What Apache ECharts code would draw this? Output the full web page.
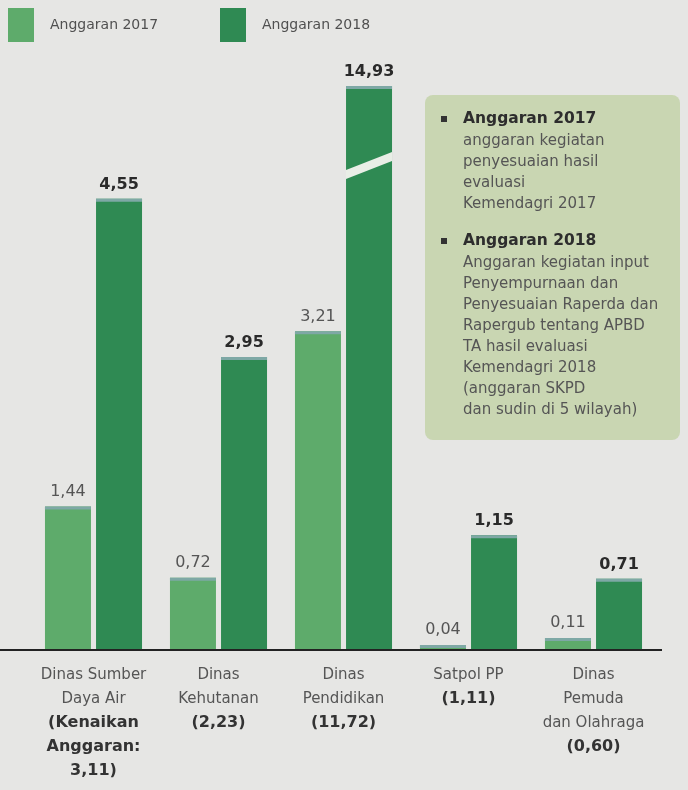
<!DOCTYPE html>
<html><head><meta charset="utf-8">
<script src="https://cdn.jsdelivr.net/npm/echarts@6/dist/echarts.min.js"></script>
<style>html,body{margin:0;padding:0;background:#e6e6e4;} #c{width:688px;height:790px;}</style>
</head><body><div id="c"></div>
<script>
// ---- data ----
const categories = ['Dinas Sumber Daya Air', 'Dinas Kehutanan', 'Dinas Pendidikan', 'Satpol PP', 'Dinas Pemuda dan Olahraga'];
const categoryLines = [['Dinas Sumber', 'Daya Air'], ['Dinas', 'Kehutanan'], ['Dinas', 'Pendidikan'], ['Satpol PP'], ['Dinas', 'Pemuda', 'dan Olahraga']];
const increaseLines = [['(Kenaikan', 'Anggaran:', '3,11)'], ['(2,23)'], ['(11,72)'], ['(1,11)'], ['(0,60)']];
const seriesNames = ['Anggaran 2017', 'Anggaran 2018'];
const anggaran2017 = [1.44, 0.72, 3.21, 0.04, 0.11];
const anggaran2018 = [4.55, 2.95, 14.93, 1.15, 0.71];
const note2017 = ['anggaran kegiatan', 'penyesuaian hasil', 'evaluasi', 'Kemendagri 2017'];
const note2018 = ['Anggaran kegiatan input', 'Penyempurnaan dan', 'Penyesuaian Raperda dan', 'Rapergub tentang APBD', 'TA hasil evaluasi', 'Kemendagri 2018', '(anggaran SKPD', 'dan sudin di 5 wilayah)'];
const axisBreak = { start: 4.87, end: 14.11 };

// ---- style ----
const FONT = '"DejaVu Sans", sans-serif';
const C17 = '#5eab6b', C18 = '#2f8a53', BG = '#e6e6e4';

const chart = echarts.init(document.getElementById('c'), null, { renderer: 'canvas' });
const fmt = v => v.toFixed(2).replace('.', ',');

const option = {
  backgroundColor: BG,
  animation: false,
  textStyle: { fontFamily: FONT },
  legend: [
    { data: [seriesNames[0]], left: 8, top: 8, padding: 0, icon: 'rect', itemWidth: 26, itemHeight: 34, selectedMode: false,
      textStyle: { fontFamily: FONT, fontSize: 14, color: '#505050', padding: [4, 0, 0, 11] } },
    { data: [seriesNames[1]], left: 220, top: 8, padding: 0, icon: 'rect', itemWidth: 26, itemHeight: 34, selectedMode: false,
      textStyle: { fontFamily: FONT, fontSize: 14, color: '#505050', padding: [4, 0, 0, 11] } }
  ],
  grid: { left: 31, right: 32, top: 79, bottom: 141, containLabel: false },
  xAxis: {
    type: 'category', data: categories,
    axisLine: { show: false }, axisTick: { show: false },
    axisLabel: {
      interval: 0, margin: 14,
      formatter: (v, i) => categoryLines[i].map(s => '{n|' + s + '}').concat(increaseLines[i].map(s => '{b|' + s + '}')).join('\n'),
      rich: {
        n: { fontFamily: FONT, fontSize: 15, color: '#555', lineHeight: 24 },
        b: { fontFamily: FONT, fontSize: 16, fontWeight: 'bold', color: '#333', lineHeight: 24 }
      }
    }
  },
  yAxis: {
    type: 'value', min: 0, max: 15,
    axisLine: { show: false }, axisTick: { show: false }, axisLabel: { show: false }, splitLine: { show: false },
    breaks: [{ start: axisBreak.start, end: axisBreak.end, gap: 0 }],
    breakArea: { show: false }
  },
  series: [
    { name: seriesNames[0], type: 'bar', data: anggaran2017, barWidth: 46, barGap: '11%',
      itemStyle: { color: C17 },
      label: { show: true, position: 'top', distance: 7, formatter: p => fmt(p.value), fontFamily: FONT, fontSize: 16, color: '#555' } },
    { name: seriesNames[1], type: 'bar', data: anggaran2018, barWidth: 46,
      itemStyle: { color: C18 },
      label: { show: true, position: 'top', distance: 6, formatter: p => fmt(p.value), fontFamily: FONT, fontSize: 16, fontWeight: 'bold', color: '#2a2a2a' } }
  ]
};
chart.setOption(option);

// ---- decorations derived from the library's layout ----
const graphics = [];
const y0 = chart.convertToPixel({ yAxisIndex: 0 }, 0);
graphics.push({ type: 'line', shape: { x1: 0, y1: y0 + 1, x2: 662, y2: y0 + 1 }, style: { stroke: '#222', lineWidth: 2 }, z: 10 });

[0, 1].forEach(si => {
  const data = chart.getModel().getSeriesByIndex(si).getData();
  for (let i = 0; i < data.count(); i++) {
    const L = data.getItemLayout(i);
    const top = Math.min(L.y, L.y + L.height);
    graphics.push({ type: 'rect', shape: { x: L.x, y: top, width: L.width, height: 3 }, style: { fill: '#7ea8a5' }, z: 5 });
  }
});

// break slash on the largest bar
{
  const data = chart.getModel().getSeriesByIndex(1).getData();
  const idx = anggaran2018.indexOf(Math.max(...anggaran2018));
  const L = data.getItemLayout(idx);
  const pb = chart.convertToPixel({ yAxisIndex: 0 }, axisBreak.start);
  graphics.push({ type: 'polygon', shape: { points: [[L.x, pb + 12], [L.x + L.width, pb - 6], [L.x + L.width, pb - 15], [L.x, pb + 3]] },
    style: { fill: '#e9eee6' }, z: 6 });
}

// annotation box
const box = { type: 'group', left: 425, top: 95, z: 20, children: [
  { type: 'rect', shape: { x: 0, y: 0, width: 255, height: 345, r: 8 }, style: { fill: '#c9d6b2' } }
] };
function addNote(y, title, lines) {
  box.children.push({ type: 'rect', shape: { x: 16, y: y - 3, width: 6, height: 6 }, style: { fill: '#333' } });
  box.children.push({ type: 'text', x: 38, y: y, style: { text: title, fontSize: 15.5, fontWeight: 'bold', fill: '#2d2d2d', verticalAlign: 'middle', fontFamily: FONT } });
  lines.forEach((s, k) => box.children.push({ type: 'text', x: 38, y: y + 22 + k * 21, style: { text: s, fontSize: 15, fill: '#555', verticalAlign: 'middle', fontFamily: FONT } }));
}
addNote(24, seriesNames[0], note2017);
addNote(146, seriesNames[1], note2018);
graphics.push(box);

chart.setOption({ graphic: graphics });
</script></body></html>
